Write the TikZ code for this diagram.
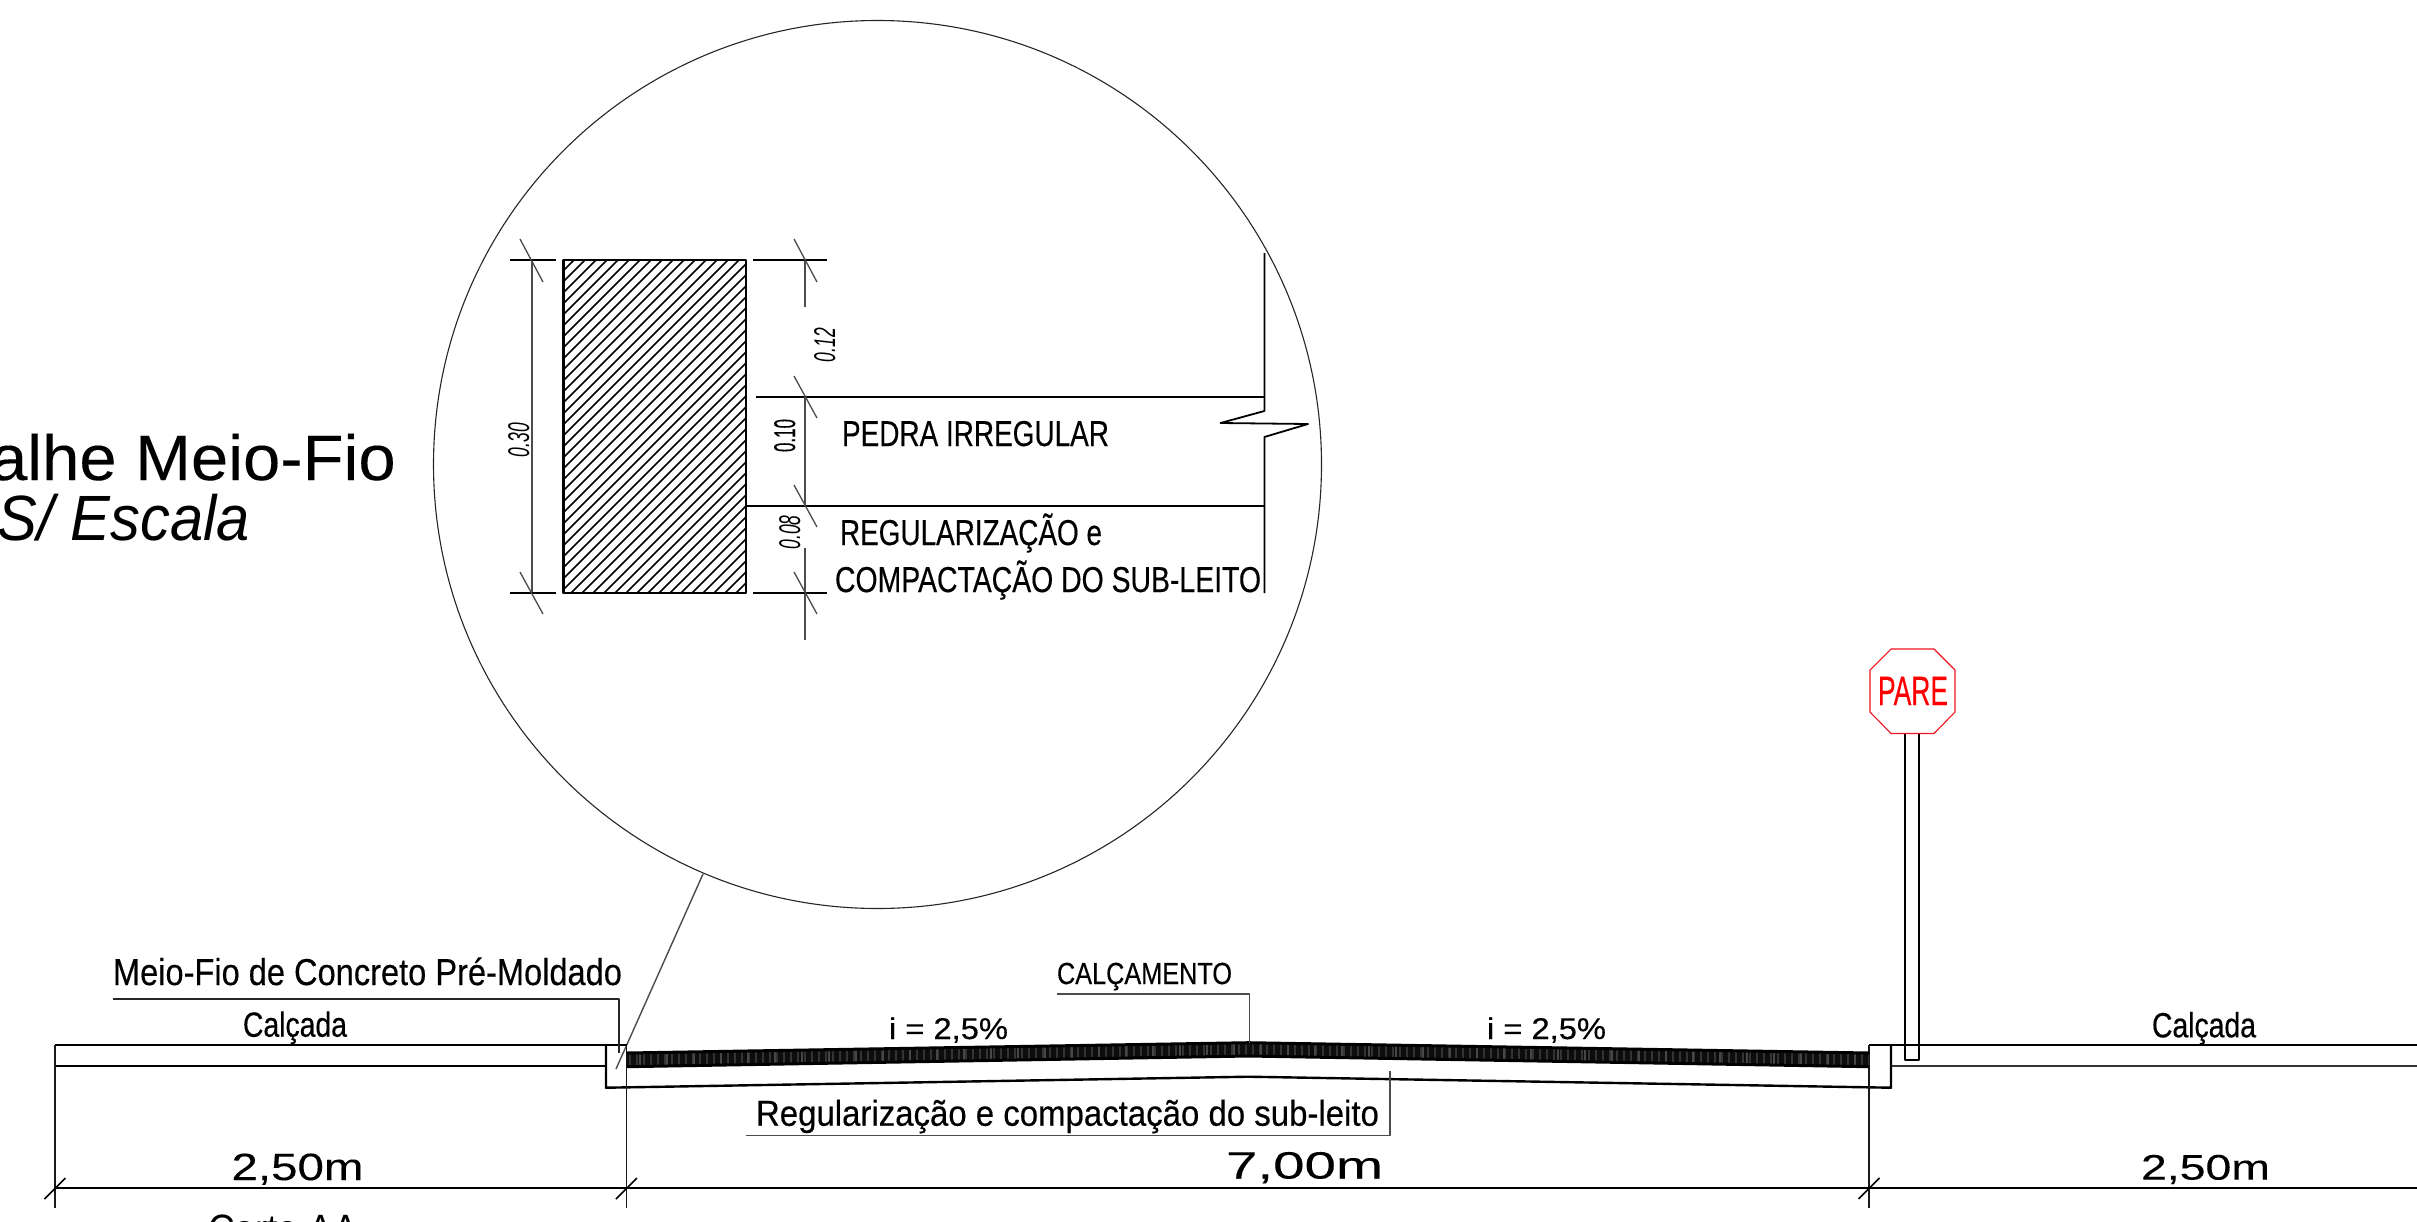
\documentclass[tikz,border=0pt]{standalone}
\usepackage{graphicx}
\usepackage{fontspec}
\setmainfont{Liberation Sans}
\newfontfamily\narf{Liberation Sans}[FakeBold=0.35]
\newfontfamily\titf{Liberation Sans}[FakeBold=0.15]
\newcommand{\wt}[2]{\resizebox{#1pt}{\height}{#2}}
\newcommand{\fsz}[1]{\fontsize{#1pt}{#1pt}\selectfont}
\definecolor{redsign}{RGB}{240,20,30}
\tikzset{
  heavy/.style={line width=2.4pt,black},
  medium/.style={line width=1.8pt,black},
  thinl/.style={line width=1.3pt,black!70},
  leader/.style={line width=1.4pt,black!70},
  tick/.style={line width=1.3pt,black!70},
  lab/.style={inner sep=0pt,outer sep=0pt,anchor=base west,text=black},
}
\begin{document}
\begin{tikzpicture}[x=1pt,y=-1pt,line join=round]
\useasboundingbox (0,0) rectangle (2417,1221);
\clip (0,0) rectangle (2417,1221);
\fill[white] (0,0) rectangle (2417,1221);

% ---- detail circle
\node[circle,draw=black!85,line width=1.1pt,minimum size=888pt,inner sep=0pt,outer sep=0pt] (circ) at (877.5,464.5) {};
\coordinate (leadA) at (703,874);
\coordinate (leadB) at (616,1069);
\draw[leader] (leadA) -- (leadB);

% ---- title
\node[inner sep=0pt,anchor=base east] (ttl) at (396,480) {\fsz{64}\titf\wt{510}{Detalhe Meio-Fio}};
\node[inner sep=0pt,anchor=base east] (sub) at (250,540.5) {\fsz{64}\itshape\wt{252}{S/ Escala}};

% ---- hatched curb
\begin{scope}
\clip (563.5,260) rectangle (746,593);
\foreach \i in {0,...,47} {
  \draw[line width=1.5pt] ({230+\i*11},593) -- ({563+\i*11},260);
}
\end{scope}
\draw[line width=2.2pt] (563.5,260) rectangle (746,593);

% ---- detail layers
\draw[medium,line width=2.2pt] (756,397) -- (1264.4,397);
\draw[medium,line width=2.2pt] (746,506) -- (1264.4,506);
\draw[medium] (1264.4,253) -- (1264.4,411) -- (1220.5,423) -- (1308,424) -- (1264.4,437) -- (1264.4,593);

% ---- detail dimensions left
\draw[thinl] (532,260) -- (532,593);
\draw[medium,line width=1.3pt] (510,260) -- (556,260);
\draw[medium,line width=1.3pt] (510,593) -- (556,593);
\draw[tick] (520,239) -- (543,282);
\draw[tick] (520,572) -- (543,614);

% ---- detail dimensions right
\draw[thinl] (805,260) -- (805,307);
\draw[thinl] (805,397) -- (805,506);
\draw[thinl] (805,548) -- (805,640);
\draw[medium,line width=1.3pt] (753,260) -- (827,260);
\draw[medium,line width=1.3pt] (753,593) -- (827,593);
\draw[tick] (794,239) -- (817,282);
\draw[tick] (794,376) -- (817,418);
\draw[tick] (794,485) -- (817,527);
\draw[tick] (794,572) -- (817,614);

\node[inner sep=0pt,rotate=90,anchor=base] (d30) at (529,440) {\fsz{30}\itshape\wt{34}{0.30}};
\node[inner sep=0pt,rotate=90,anchor=base] (d12) at (835,345) {\fsz{30}\itshape\wt{34}{0.12}};
\node[inner sep=0pt,rotate=90,anchor=base] (d10) at (795,435.5) {\fsz{30}\narf\wt{33}{0.10}};
\node[inner sep=0pt,rotate=90,anchor=base] (d08) at (800,532.5) {\fsz{30}\itshape\wt{34}{0.08}};

\node[lab] (pedra) at (842,446) {\fsz{36}\narf\wt{267}{PEDRA IRREGULAR}};
\node[lab] (regd) at (840,545) {\fsz{36}\narf\wt{262}{REGULARIZAÇÃO e}};
\node[lab] (comp) at (835,592) {\fsz{36}\narf\wt{426}{COMPACTAÇÃO DO SUB-LEITO}};

% ---- section: sidewalks
\draw[heavy] (55,1045) -- (626.5,1045);
\draw[medium] (55,1066) -- (606,1066);
\draw[heavy] (1869,1045) -- (2417,1045);
\draw[medium,black!80] (1891,1066) -- (2417,1066);
% curbs and sub-base
\draw[heavy] (606,1045) -- (606,1087.7) -- (1248.5,1076.7) -- (1891,1087.7) -- (1891,1045);

% ---- extension lines
\draw[line width=1.8pt,black!90] (55,1045) -- (55,1208);
\draw[line width=1.8pt,black!90] (626.5,1045) -- (626.5,1208);
\draw[line width=1.8pt,black!90] (1869,1045) -- (1869,1208);

% ---- pavement band
\begin{scope}
\fill[black!95] (626.5,1053) -- (1248.5,1042.7) -- (1869,1053) -- (1869,1066.7) -- (1248.5,1056) -- (626.5,1066.7) -- cycle;
\clip (626.5,1053) -- (1248.5,1042.7) -- (1869,1053) -- (1869,1066.7) -- (1248.5,1056) -- (626.5,1066.7) -- cycle;
\foreach \i in {0,...,177} {
  \draw[line width=1.3pt,black!80] ({630+\i*7},1040) -- ({630+\i*7},1070);
}
\foreach \i in {0,...,45} {
  \draw[line width=2.4pt,black!72] ({640+\i*27},1040) -- ({640+\i*27},1070);
}
\end{scope}
\draw[line width=3pt] (626.5,1053) -- (1248.5,1042.7) -- (1869,1053);
\draw[line width=3pt] (626.5,1066.7) -- (1248.5,1056) -- (1869,1066.7);

% ---- meio-fio leader
\coordinate (mfA) at (113,998.7);
\coordinate (mfB) at (619,998.7);
\coordinate (mfC) at (619,1053);
\draw[medium,line width=1.7pt,black!85] (mfA) -- (mfB) -- (mfC);
\node[lab] (mf) at (113,985) {\fsz{37.5}\narf\wt{509}{Meio-Fio de Concreto Pré-Moldado}};

% ---- texts on section
\node[lab] (calL) at (243,1036.7) {\fsz{35}\narf\wt{104}{Calçada}};
\node[lab] (calR) at (2152,1037.3) {\fsz{35}\narf\wt{104}{Calçada}};
\node[lab] (iL) at (889,1039) {\fsz{30}\narf\wt{119}{i = 2,5\%}};
\node[lab] (iR) at (1487,1039) {\fsz{30}\narf\wt{119}{i = 2,5\%}};

\coordinate (calcA) at (1057,994);
\coordinate (calcB) at (1249.5,994);
\coordinate (calcC) at (1249.5,1043);
\draw[leader] (calcA) -- (calcB) -- (calcC);
\node[lab] (calc) at (1057,984) {\fsz{30.5}\narf\wt{175}{CALÇAMENTO}};

\coordinate (regA) at (746,1135.7);
\coordinate (regB) at (1390,1135.7);
\coordinate (regC) at (1390,1070.7);
\draw[leader] (regA) -- (regB) -- (regC);
\node[lab] (regs) at (756,1125.7) {\fsz{36}\narf\wt{623}{Regularização e compactação do sub-leito}};

% ---- sign
\draw[medium] (1905,732) -- (1905,1060) -- (1919,1060) -- (1919,732);
\draw[redsign,line width=1.1pt,fill=white] (1891,649) -- (1934,649) -- (1955,670) -- (1955,712) -- (1934,733.5) -- (1891,733.5) -- (1870,712) -- (1870,670) -- cycle;
\node[lab,text=red] (pare) at (1878,705) {\fsz{41}\narf\wt{70}{PARE}};

% ---- main dimension
\draw[line width=2pt] (55,1188.4) -- (2417,1188.4);
\foreach \x/\n in {55/a,626.5/b,1869/c} {
  \coordinate (tk\n A) at (\x-10.5,1199);
  \coordinate (tk\n B) at (\x+10.5,1178);
  \draw[line width=1.7pt] (tk\n A) -- (tk\n B);
}
\node[lab] (d1) at (231.5,1180) {\fsz{38}\titf\wt{132}{2,50m}};
\node[lab] (d2) at (1226,1178.5) {\fsz{38}\titf\wt{157}{7,00m}};
\node[lab] (d3) at (2141,1179.6) {\fsz{35.5}\titf\wt{129}{2,50m}};
\node[lab] (corte) at (208,1243) {\fsz{41}\wt{150}{Corte AA}};
\end{tikzpicture}
\end{document}
